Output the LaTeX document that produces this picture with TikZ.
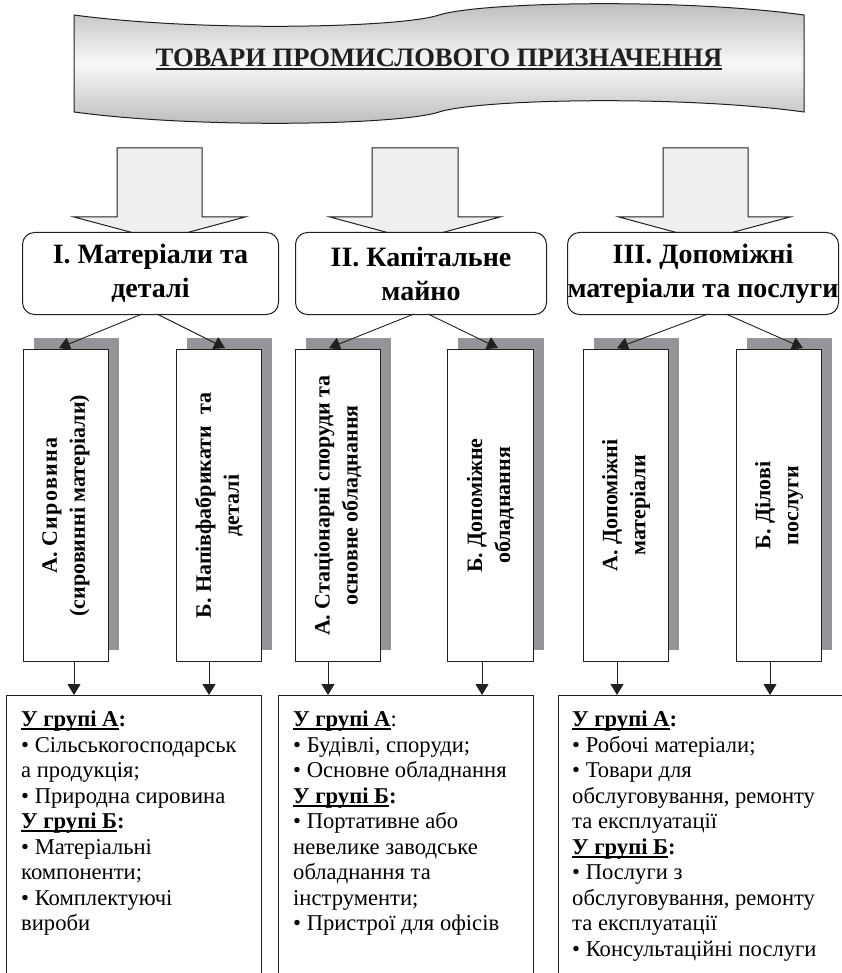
\documentclass[tikz,border=0pt]{standalone}
\usepackage{fontspec}
\setmainfont{Liberation Serif}
\usetikzlibrary{arrows.meta}
\definecolor{ink}{HTML}{231F20}
\definecolor{shadowgray}{HTML}{939598}
\definecolor{arrowfill}{HTML}{EFEFEF}
\newcommand\myul[1]{\setbox0\hbox{#1}\rlap{\rule[-3.2pt]{\wd0}{1.7pt}}\box0}
\begin{document}
\begin{tikzpicture}[x=1pt,y=-1pt,
  catbox/.style={draw=ink, line width=1pt, rounded corners=12pt, fill=white, inner sep=0pt,
    anchor=north west, minimum width=256pt, minimum height=82pt, align=center,
    font=\bfseries\fontsize{28}{34}\selectfont},
  shadowbox/.style={fill=shadowgray},
  vbox/.style={draw=ink, line width=1pt, fill=white, anchor=north west, minimum width=85pt, minimum height=312pt, inner sep=0pt},
  vtext/.style={rotate=90, align=center, font=\bfseries\fontsize{22}{28}\selectfont, inner sep=0pt},
  bbox/.style={draw=ink, line width=1pt, fill=white, anchor=north west, minimum height=320pt, inner sep=0pt},
  btext/.style={anchor=north west, align=left, inner sep=0pt, font=\fontsize{22.6}{25.5}\selectfont},
  bigarrow/.style={draw=ink, line width=1pt, fill=arrowfill, line join=miter},
  link/.style={draw=ink, line width=0.9pt, -{Triangle[length=11pt,width=13pt]}},
]
\useasboundingbox (0,0) rectangle (842,973);

% banner
\path[draw=ink, line width=1pt, top color=gray!55, bottom color=gray!55, middle color=white!94!gray]
  (74,15) .. controls (200,32) and (400,28) .. (439,15)
  .. controls (480,2) and (680,-2) .. (804,15)
  -- (804,112)
  .. controls (680,95) and (480,99) .. (439,112)
  .. controls (400,125) and (200,129) .. (74,112) -- cycle;
\node[font=\bfseries\fontsize{26.6}{30}\selectfont, anchor=base, inner sep=0pt, text=ink] (title) at (439,67)
  {\myul{ТОВАРИ ПРОМИСЛОВОГО ПРИЗНАЧЕННЯ}};

% big arrows
\path[bigarrow] (117,148) -- (202,148) -- (202,217) -- (245,217) -- (160,240) -- (74,217) -- (117,217) -- cycle;
\path[bigarrow] (372,148) -- (458,148) -- (458,217) -- (500,217) -- (415,240) -- (330,217) -- (372,217) -- cycle;
\path[bigarrow] (663,148) -- (748,148) -- (748,217) -- (790,217) -- (704,240) -- (619,217) -- (663,217) -- cycle;

% category boxes
\node[catbox] (cat1) at (22,232) {I. Матеріали та\\деталі};
\node[catbox, minimum width=251pt] (cat2) at (295,232) {II. Капітальне\\майно};
\node[catbox, minimum width=271pt] (cat3) at (567,232) {III. Допоміжні\\матеріали та послуги};

% shadows
\fill[shadowbox] (34,338) rectangle (119,650);
\fill[shadowbox] (187,338) rectangle (272,650);
\fill[shadowbox] (306,338) rectangle (391,650);
\fill[shadowbox] (458,338) rectangle (544,650);
\fill[shadowbox] (594,338) rectangle (679,650);
\fill[shadowbox] (747,338) rectangle (832,650);

% diagonal links
\coordinate (s1a) at (142,314); \coordinate (t1a) at (59,348);
\coordinate (s1b) at (157,314); \coordinate (t1b) at (225,348);
\coordinate (s2a) at (414,314); \coordinate (t2a) at (329,348);
\coordinate (s2b) at (428,314); \coordinate (t2b) at (498,348);
\coordinate (s3a) at (708,314); \coordinate (t3a) at (617,348);
\coordinate (s3b) at (726,314); \coordinate (t3b) at (803,348);
\foreach \a in {1a,1b,2a,2b,3a,3b} \draw[link] (s\a) -- (t\a);

% vertical boxes
\node[vbox] (v1a) at (23,349) {};
\node[vbox] (v1b) at (176,349) {};
\node[vbox] (v2a) at (295,349) {};
\node[vbox, minimum width=86pt] (v2b) at (447,349) {};
\node[vbox] (v3a) at (583,349) {};
\node[vbox] (v3b) at (736,349) {};
\node[vtext] (v1at) at (v1a.center) {А. {\addfontfeature{LetterSpace=6}Сировина}\\(сировинні матеріали)};
\node[vtext] (v1bt) at (v1b.center) {Б. Напівфабрикати\ \ та\\деталі};
\node[vtext] (v2at) at (v2a.center) {А. Стаціонарні споруди та\\основне обладнання};
\node[vtext] (v2bt) at (v2b.center) {Б. Допоміжне\\обладнання};
\node[vtext] (v3at) at (v3a.center) {А. Допоміжні\\матеріали};
\node[vtext] (v3bt) at (v3b.center) {Б. Ділові\\послуги};

% bottom boxes
\node[bbox, minimum width=255pt] (b1) at (6,695) {};
\node[bbox, minimum width=255pt] (b2) at (278,695) {};
\node[bbox, minimum width=300pt] (b3) at (558,695) {};

% vertical links
\coordinate (u1a) at (74,661);  \coordinate (d1a) at (74,695);
\coordinate (u1b) at (209,661); \coordinate (d1b) at (209,695);
\coordinate (u2a) at (328,661); \coordinate (d2a) at (328,695);
\coordinate (u2b) at (482,661); \coordinate (d2b) at (482,695);
\coordinate (u3a) at (617,661); \coordinate (d3a) at (617,695);
\coordinate (u3b) at (770,661); \coordinate (d3b) at (770,695);
\foreach \a in {1a,1b,2a,2b,3a,3b} \draw[link] (u\a) -- (d\a);

% bottom texts
\node[btext] (b1t) at (21,711) {%
{\bfseries\myul{У групі А}:}\\
• Сільськогосподарськ\\
а продукція;\\
• Природна сировина\\
{\bfseries\myul{У групі Б}:}\\
• Матеріальні\\
компоненти;\\
• Комплектуючі\\
вироби};
\node[btext] (b2t) at (293,711) {%
{\bfseries\myul{У групі А}}:\\
• Будівлі, споруди;\\
• Основне обладнання\\
{\bfseries\myul{У групі Б}:}\\
• Портативне або\\
невелике заводське\\
обладнання та\\
інструменти;\\
• Пристрої для офісів};
\node[btext] (b3t) at (572,711) {%
{\bfseries\myul{У групі А}:}\\
• Робочі матеріали;\\
• Товари для\\
обслуговування, ремонту\\
та експлуатації\\
{\bfseries\myul{У групі Б}:}\\
• Послуги з\\
обслуговування, ремонту\\
та експлуатації\\
• Консультаційні послуги};
\end{tikzpicture}
\end{document}
